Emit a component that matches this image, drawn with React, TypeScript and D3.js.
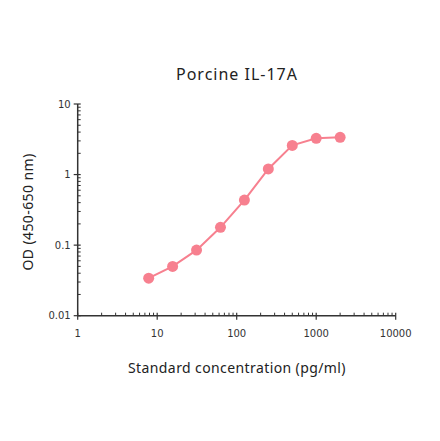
import React from 'react';
import * as d3 from 'd3';

const concentrations = [7.8125, 15.625, 31.25, 62.5, 125, 250, 500, 1000, 2000];
const odValues = [0.034, 0.05, 0.085, 0.179, 0.435, 1.2, 2.59, 3.26, 3.37];
const xTickValues = [1, 10, 100, 1000, 10000];
const yTickValues = [0.01, 0.1, 1, 10];
const yTickLabels = ['0.01', '0.1', '1', '10'];

const width = 440;
const height = 441;
const pink = '#f7808f';
const axisColor = '#333';
const font = '"Noto Sans", "Open Sans", sans-serif';
const tickFont = '"DejaVu Sans", Verdana, sans-serif';

const App: React.FC = () => {
  const x = d3.scaleLog().domain([1, 10000]).range([77.7, 395.7]);
  const y = d3.scaleLog().domain([0.01, 10]).range([315.7, 104]);

  // minor ticks: 2..9 in each decade
  const xMinor: number[] = [];
  for (let d = 1; d < 10000; d *= 10) for (let m = 2; m <= 9; m++) xMinor.push(d * m);
  const yMinor: number[] = [];
  for (let d = 0.01; d < 10; d *= 10) for (let m = 2; m <= 9; m++) yMinor.push(d * m);

  const pts = concentrations.map((c, i) => [c, odValues[i]] as [number, number]);
  const line = d3
    .line<[number, number]>()
    .x((d) => x(d[0]))
    .y((d) => y(d[1]));

  const x0 = x(1);
  const y0 = y(0.01);

  return (
    <svg
      width={width}
      height={height}
      style={{ position: 'absolute', left: 0, top: 0, background: '#fff' }}
    >
      <text
        x={237}
        y={80}
        textAnchor="middle"
        fontFamily={font}
        fontSize={16}
        letterSpacing={1}
        fill="#222"
      >
        Porcine IL-17A
      </text>

      {/* axes */}
      <line x1={x0} x2={x0} y1={y(10)} y2={y0} stroke={axisColor} strokeWidth={1.5} />
      <line x1={x0} x2={x(10000)} y1={y0} y2={y0} stroke={axisColor} strokeWidth={1.5} />

      {yMinor.map((v) => (
        <line key={'ym' + v} x1={x0} x2={x0 + 3} y1={y(v)} y2={y(v)} stroke={axisColor} strokeWidth={1} />
      ))}
      {yTickValues.map((v, i) => (
        <g key={'y' + v}>
          <line x1={x0 - 4} x2={x0 + 3} y1={y(v)} y2={y(v)} stroke={axisColor} strokeWidth={1.2} />
          <text
            x={x0 - 7}
            y={y(v)}
            dy="0.35em"
            textAnchor="end"
            fontFamily={tickFont}
            fontSize={10}
            fill={axisColor}
          >
            {yTickLabels[i]}
          </text>
        </g>
      ))}

      {xMinor.map((v) => (
        <line key={'xm' + v} x1={x(v)} x2={x(v)} y1={y0} y2={y0 - 3} stroke={axisColor} strokeWidth={1} />
      ))}
      {xTickValues.map((v) => (
        <g key={'x' + v}>
          <line x1={x(v)} x2={x(v)} y1={y0 + 4} y2={y0 - 3} stroke={axisColor} strokeWidth={1.2} />
          <text
            x={x(v)}
            y={y0 + 21}
            textAnchor="middle"
            fontFamily={tickFont}
            fontSize={10}
            fill={axisColor}
          >
            {v}
          </text>
        </g>
      ))}

      <text
        x={237}
        y={373}
        textAnchor="middle"
        fontFamily={font}
        fontSize={14}
        letterSpacing={0.4}
        fill="#222"
      >
        Standard concentration (pg/ml)
      </text>
      <text
        transform={`translate(33,212) rotate(-90)`}
        textAnchor="middle"
        fontFamily={font}
        fontSize={14}
        letterSpacing={0.4}
        fill="#222"
      >
        OD (450-650 nm)
      </text>

      <path d={line(pts) ?? ''} fill="none" stroke={pink} strokeWidth={2} />
      {pts.map((p) => (
        <circle key={p[0]} cx={x(p[0])} cy={y(p[1])} r={5.5} fill={pink} />
      ))}
    </svg>
  );
};

export default App;
